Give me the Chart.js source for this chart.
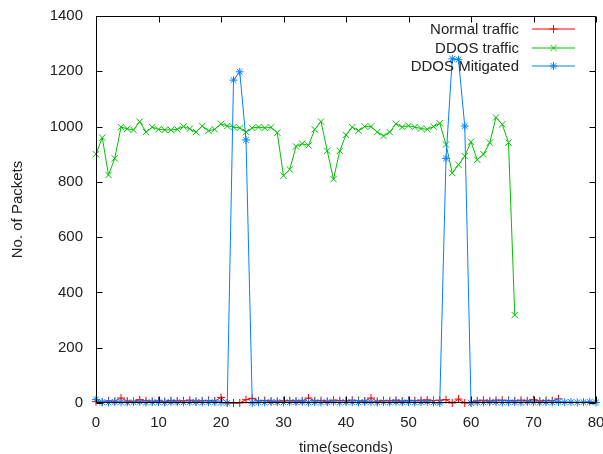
<!DOCTYPE html>
<html>
<head>
<meta charset="utf-8">
<script src="https://cdn.jsdelivr.net/npm/chart.js@4.4.1/dist/chart.umd.min.js"></script>
<style>
  html, body { margin: 0; padding: 0; background: #fff; }
</style>
</head>
<body>
<canvas id="packets_chart" width="603" height="454"></canvas>
<script>
// one value per second, index = time(seconds)
const normalTraffic = [5, 3, 8, 6, 18, 7, 6, 12, 8, 6, 8, 5, 9, 7, 8, 10, 6, 8, 9, 7,
  20, 0, 0, 0, 12, 17, 8, 9, 7, 6, 8, 9, 7, 8, 18, 8, 9, 6, 10, 9,
  8, 10, 8, 7, 18, 6, 9, 8, 10, 7, 9, 8, 10, 11, 9, 10, 12, 0, 14, 0,
  2, 8, 10, 7, 10, 10, 9, 8, 10, 8, 12, 7, 9, 8, 15];
const ddosTraffic = [900, 960, 825, 885, 998, 992, 988, 1018, 980, 998, 990, 988, 988, 990, 1000, 992, 980, 1002, 985, 990,
  1010, 1002, 998, 995, 980, 995, 998, 995, 997, 978, 822, 845, 928, 938, 932, 990, 1018, 912, 810, 912,
  970, 998, 985, 1000, 1000, 980, 966, 980, 1010, 998, 1003, 998, 993, 990, 1000, 1012, 935, 832, 862, 893,
  945, 880, 900, 942, 1033, 1008, 942, 318];
const ddosMitigated = [13, 3, 2, 4, 3, 2, 3, 4, 2, 3, 3, 2, 4, 3, 2, 3, 4, 2, 3, 3,
  2, 0, 1168, 1198, 952, 0, 3, 2, 4, 3, 2, 3, 3, 4, 2, 3, 2, 3, 4, 2,
  3, 3, 2, 4, 3, 2, 3, 2, 4, 3, 3, 2, 3, 4, 2, 0, 885, 1245, 1242, 1002,
  0, 3, 2, 4, 3, 2, 3, 3, 2, 4, 3, 2, 3, 2, 4, 3, 3, 2, 3, 4, 2];
const xTicks = [0, 10, 20, 30, 40, 50, 60, 70, 80];
const yTicks = [0, 200, 400, 600, 800, 1000, 1200, 1400];

const toPoints = vals => vals.map((v, i) => ({x: i, y: v}));
const FONT = 'Liberation Sans, Arial, sans-serif';
const RED = '#ff0000', GREEN = '#00c000', BLUE = '#0080ff';

// gnuplot style frame with ticks pointing inwards on all four sides
const frameTicks = {
  id: 'frameTicks',
  afterDraw(chart) {
    const {ctx, chartArea: a, scales} = chart;
    const L = Math.round(a.left) + 0.5, R = Math.round(a.right) - 0.5;
    const T = Math.round(a.top) + 0.5, B = Math.round(a.bottom) - 0.5;
    ctx.save();
    ctx.strokeStyle = '#000';
    ctx.lineWidth = 1;
    ctx.beginPath();
    ctx.rect(L, T, R - L, B - T);
    xTicks.forEach(v => {
      const px = Math.round(scales.x.getPixelForValue(v)) + 0.5;
      ctx.moveTo(px, B); ctx.lineTo(px, B - 6);
      ctx.moveTo(px, T); ctx.lineTo(px, T + 6);
    });
    yTicks.forEach(v => {
      const py = Math.round(scales.y.getPixelForValue(v)) + 0.5;
      ctx.moveTo(L, py); ctx.lineTo(L + 6, py);
      ctx.moveTo(R, py); ctx.lineTo(R - 6, py);
    });
    ctx.stroke();
    ctx.restore();
  }
};

// key in the top right corner, text first then the line sample
const keyBox = {
  id: 'keyBox',
  afterDatasetsDraw(chart) {
    const {ctx, chartArea: a} = chart;
    const sampleRight = a.right - 21, sampleLeft = sampleRight - 43;
    ctx.save();
    ctx.font = '15px ' + FONT;
    ctx.textAlign = 'right';
    ctx.textBaseline = 'middle';
    chart.data.datasets.forEach((ds, i) => {
      const y = Math.round(a.top + 13 + i * 18.5);
      ctx.fillStyle = '#222';
      ctx.fillText(ds.label, sampleLeft - 13, y + 0.5);
      ctx.strokeStyle = ds.borderColor;
      ctx.fillStyle = ds.borderColor;
      ctx.lineWidth = 1;
      ctx.beginPath();
      ctx.moveTo(sampleLeft, y); ctx.lineTo(sampleRight, y);
      ctx.stroke();
      Chart.helpers.drawPoint(ctx, {pointStyle: ds.pointStyle, radius: ds.pointRadius, rotation: 0, borderWidth: 1},
        (sampleLeft + sampleRight) / 2, y);
    });
    ctx.restore();
  }
};

const ctx = document.getElementById('packets_chart').getContext('2d');
const myChart = new Chart(ctx, {
  type: 'line',
  data: {
    datasets: [{
      label: 'Normal traffic',
      data: toPoints(normalTraffic),
      borderColor: RED,
      pointBorderColor: RED,
      pointBackgroundColor: RED,
      pointStyle: 'cross',
      pointRadius: 4,
      order: 2
    }, {
      label: 'DDOS traffic',
      data: toPoints(ddosTraffic),
      borderColor: GREEN,
      pointBorderColor: GREEN,
      pointBackgroundColor: GREEN,
      pointStyle: 'crossRot',
      pointRadius: 4.5,
      order: 1
    }, {
      label: 'DDOS Mitigated',
      data: toPoints(ddosMitigated),
      borderColor: BLUE,
      pointBorderColor: BLUE,
      pointBackgroundColor: BLUE,
      pointStyle: 'star',
      pointRadius: 4,
      order: 0
    }]
  },
  options: {
    responsive: false,
    animation: false,
    layout: {padding: {top: 16, right: 7, bottom: 0, left: 0}},
    datasets: {
      line: {
        borderWidth: 1,
        tension: 0,
        fill: false,
        clip: false,
        pointBorderWidth: 1
      }
    },
    plugins: {
      legend: {display: false},
      tooltip: {enabled: false}
    },
    scales: {
      x: {
        type: 'linear',
        min: 0,
        max: 80,
        afterFit: s => { s.height = 51; s.paddingLeft = 0; s.paddingRight = 0; },
        afterBuildTicks: s => { s.ticks = xTicks.map(v => ({value: v})); },
        grid: {display: false, drawTicks: false},
        border: {display: false},
        ticks: {padding: 11, color: '#222', font: {family: FONT, size: 15}, maxRotation: 0},
        title: {display: true, text: 'time(seconds)', color: '#222', font: {family: FONT, size: 15}, padding: {top: 7, bottom: -3}}
      },
      y: {
        min: 0,
        max: 1400,
        afterFit: s => { s.width = 96; s.paddingTop = 0; s.paddingBottom = 0; },
        afterBuildTicks: s => { s.ticks = yTicks.map(v => ({value: v})); },
        grid: {display: false, drawTicks: false},
        border: {display: false},
        ticks: {padding: 13, color: '#222', font: {family: FONT, size: 15}, callback: v => String(v)},
        title: {display: true, text: 'No. of Packets', color: '#222', font: {family: FONT, size: 15}, padding: {top: 9, bottom: 0}}
      }
    }
  },
  plugins: [frameTicks, keyBox]
});
</script>
</body>
</html>
